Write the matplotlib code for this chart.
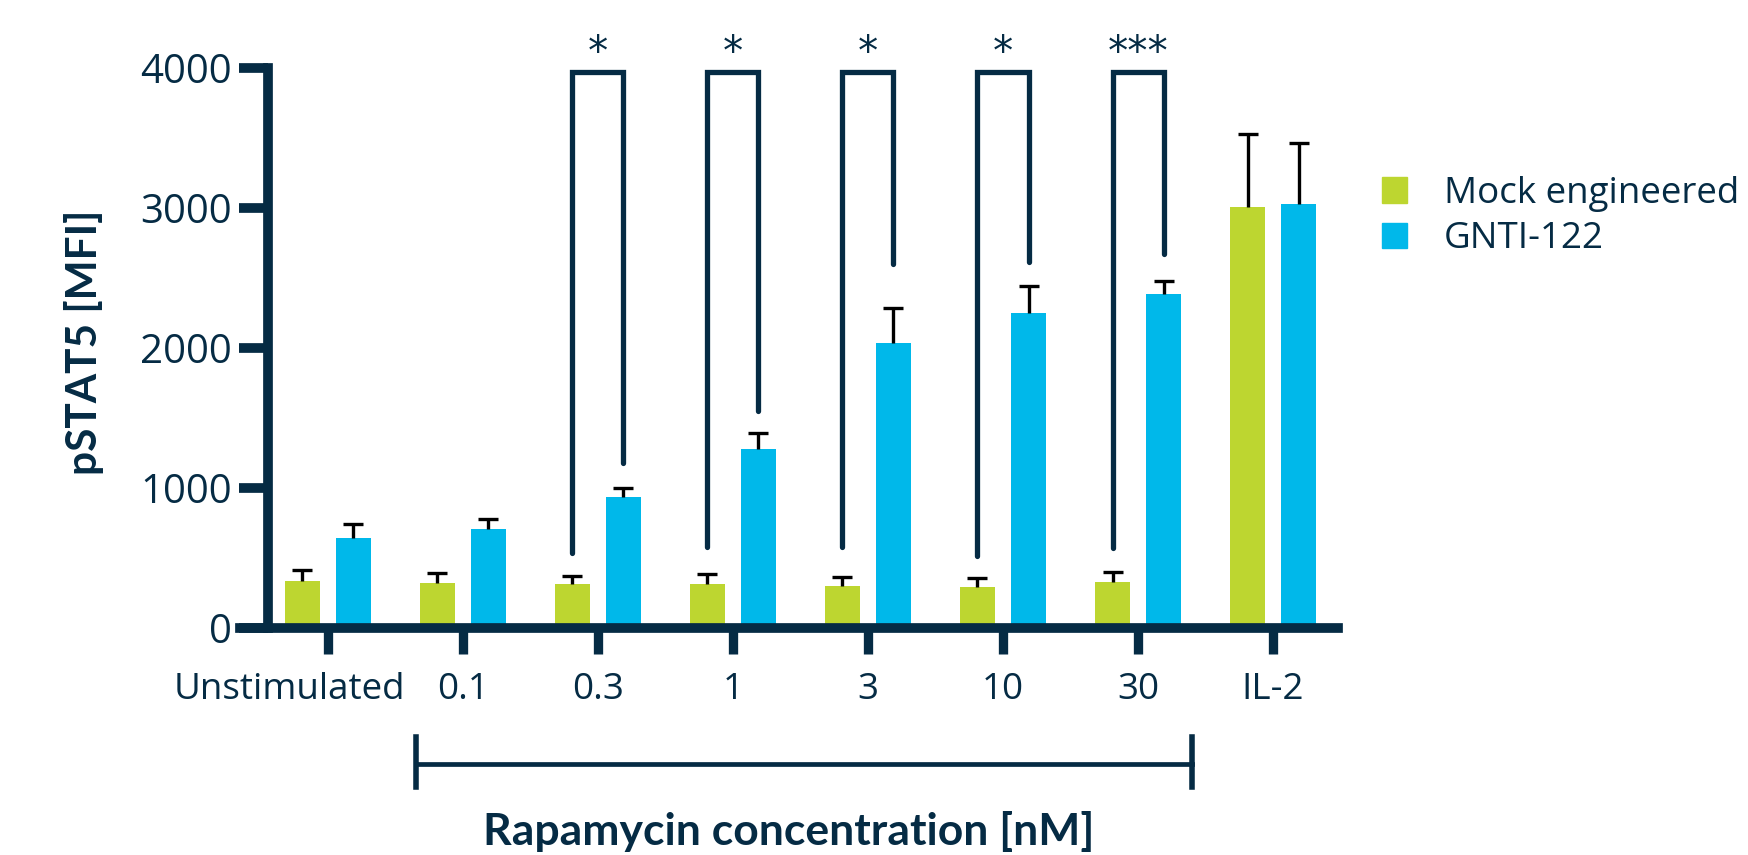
import numpy as np
from matplotlib import pyplot as plt
from matplotlib.patches import Patch
from matplotlib.transforms import ScaledTranslation

# data
groups = ["Unstimulated", "0.1", "0.3", "1", "3", "10", "30", "IL-2"]
mock = [335, 321, 314, 314, 300, 290, 329, 3011]
mock_err = [80, 74, 57, 74, 62, 65, 69, 518]
gnti = [643, 709, 936, 1276, 2033, 2252, 2383, 3031]
gnti_err = [98, 70, 62, 114, 255, 190, 96, 434]

# significance brackets (group index, mock-side bottom, GNTI-side bottom, label)
sig_groups = [2, 3, 4, 5, 6]
sig_left = [535, 581, 581, 514, 569]
sig_right = [1178, 1552, 2600, 2617, 2671]
sig_labels = ["*", "*", "*", "*", "***"]
sig_top = 3975

series_names = ["Mock engineered", "GNTI-122"]

NAVY = "#052B44"
GREEN = "#BDD630"
BLUE = "#00B8EA"

plt.rcParams["font.family"] = ["Open Sans", "DejaVu Sans"]

fig = plt.figure(figsize=(17.48, 8.55), dpi=100)
ax = fig.add_axes([0.1373, 0.2655, 0.6281, 0.704])

x = np.arange(len(groups))
off = 0.189
w = 0.26

ax.bar(x - off, mock, w, color=GREEN, zorder=2)
ax.bar(x + off, gnti, w, color=BLUE, zorder=2)
for xs, vals, errs in [(x - off, mock, mock_err), (x + off, gnti, gnti_err)]:
    eb = ax.errorbar(xs, vals, yerr=[np.zeros(len(vals)), errs], fmt="none",
                     ecolor="black", elinewidth=2.4, capsize=7, capthick=2.4,
                     zorder=3)
    eb[1][0].set_visible(False)  # only the upper cap

# significance brackets
for g, lo, hi, lab in zip(sig_groups, sig_left, sig_right, sig_labels):
    ax.plot([g - off, g - off, g + off, g + off], [lo, sig_top, sig_top, hi],
            color=NAVY, lw=3.8, solid_capstyle="round", solid_joinstyle="miter",
            zorder=4, clip_on=False)
    ax.text(g, 4020, lab, ha="center", va="baseline", fontsize=29,
            family="DejaVu Sans", color=NAVY)

ax.set_xlim(-0.65, 7.48)
ax.set_ylim(0, 4300)

for s in ["top", "right"]:
    ax.spines[s].set_visible(False)
ax.spines["left"].set_position(("data", -0.443))
ax.spines["left"].set_bounds(0, 4000)
for s in ["left", "bottom"]:
    ax.spines[s].set_linewidth(7)
    ax.spines[s].set_color(NAVY)
    ax.spines[s].set_capstyle("projecting")
    ax.spines[s].set_zorder(5)

ax.set_yticks([0, 1000, 2000, 3000, 4000])
ax.set_xticks(x)
ax.set_xticklabels(groups)
ax.tick_params(axis="y", length=21, width=7, color=NAVY, labelsize=29,
               labelcolor=NAVY, pad=5)
ax.tick_params(axis="x", length=19, width=6.7, color=NAVY, labelsize=26.5,
               labelcolor=NAVY, pad=13)
# "Unstimulated" sits a bit left of its tick
lbl = ax.get_xticklabels()[0]
lbl.set_transform(lbl.get_transform() + ScaledTranslation(-38 / 100, 0, fig.dpi_scale_trans))

# rapamycin bracket under the axis
ax.plot([0.65, 6.4], [-971, -971], color=NAVY, lw=3.4, clip_on=False)
ax.plot([0.65, 0.65], [-779, -1136], color=NAVY, lw=4, clip_on=False)
ax.plot([6.4, 6.4], [-779, -1136], color=NAVY, lw=4, clip_on=False)

fig.text(789 / 1748, 1 - 831 / 855, "Rapamycin concentration [nM]", ha="center",
         va="center", fontsize=32, fontweight="bold", color=NAVY, family="Lato")
fig.text(84 / 1748, 1 - 342 / 855, "pSTAT5 [MFI]", ha="center", va="center",
         rotation=90, fontsize=30.5, fontweight="bold", color=NAVY, family="Lato")

handles = [Patch(color=GREEN), Patch(color=BLUE)]
fig.legend(handles, series_names, loc="upper left",
           bbox_to_anchor=(1382 / 1748, 1 - 176 / 855), frameon=False,
           fontsize=26.5, handlelength=0.68, handleheight=0.68, handletextpad=1.0,
           labelspacing=0.25, borderpad=0, borderaxespad=0, labelcolor=NAVY)

fig.savefig("out.png", dpi=100)
